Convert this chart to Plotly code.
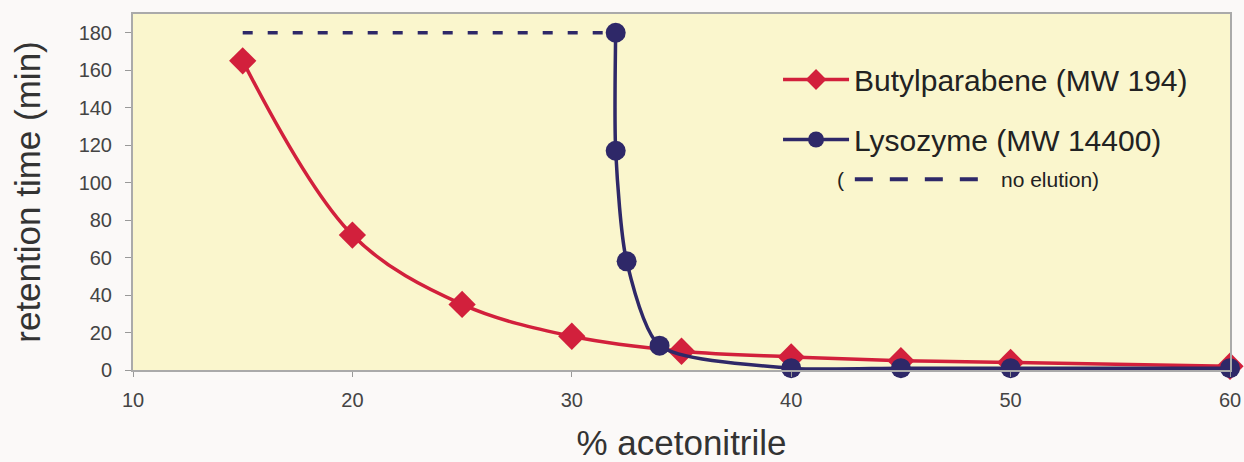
import plotly.graph_objects as go

# Data
acn_butyl = [15, 20, 25, 30, 35, 40, 45, 50, 60]
rt_butyl = [165, 72, 35, 18, 10, 7, 5, 4, 2]

acn_lyso = [32, 32, 32.5, 34, 40, 45, 50, 60]
rt_lyso = [180, 117, 58, 13, 1, 1, 1, 1]

acn_noelu = [15, 32]
rt_noelu = [180, 180]

x_ticks = [10, 20, 30, 40, 50, 60]
y_ticks = [0, 20, 40, 60, 80, 100, 120, 140, 160, 180]

RED = "#d2203c"
NAVY = "#2e2868"
FONT = "Liberation Sans, Arial, Helvetica, sans-serif"

fig = go.Figure()

fig.add_trace(go.Scatter(
    x=acn_noelu, y=rt_noelu, mode="lines",
    line=dict(color=NAVY, width=3.5, dash="10px,15px"),
    showlegend=False, cliponaxis=False, hoverinfo="skip",
))
fig.add_trace(go.Scatter(
    x=acn_butyl, y=rt_butyl, mode="lines+markers",
    name="Butylparabene (MW 194)", legendgroup="a",
    line=dict(color=RED, width=3.5, shape="spline", smoothing=1),
    marker=dict(symbol="diamond", size=21, color=RED),
    cliponaxis=False,
))
fig.add_trace(go.Scatter(
    x=acn_lyso, y=rt_lyso, mode="lines+markers",
    name="Lysozyme (MW 14400)", legendgroup="b",
    line=dict(color=NAVY, width=3.5, shape="spline", smoothing=0.7),
    marker=dict(symbol="circle", size=20, color=NAVY),
    cliponaxis=False,
))

fig.update_layout(
    width=1244, height=462,
    margin=dict(l=133, r=14, t=14, b=92, autoexpand=False),
    paper_bgcolor="#fbf9f8",
    plot_bgcolor="#faf6cd",
    font=dict(family=FONT, color="#333333"),
    legend=dict(
        x=0.588, y=0.889, xanchor="left", yanchor="top",
        bgcolor="rgba(0,0,0,0)", font=dict(size=30, color="#222222"),
        tracegroupgap=18, itemwidth=66,
    ),
    xaxis=dict(
        range=[10, 60], tickvals=x_ticks, ticks="outside", ticklen=5,
        tickcolor="#999999", tickfont=dict(size=20, color="#444444"),
        ticklabelstandoff=6, automargin=False,
        showgrid=False, zeroline=False, showline=True, linecolor="#aaaaaa",
        linewidth=2, mirror=True,
        title=dict(text="% acetonitrile", font=dict(size=35, color="#333333"), standoff=26),
    ),
    yaxis=dict(
        range=[0, 190], tickvals=y_ticks, ticks="outside", ticklen=6,
        tickcolor="#999999", tickfont=dict(size=20, color="#444444"),
        ticklabelstandoff=9, automargin=False,
        showgrid=False, zeroline=False, showline=True, linecolor="#aaaaaa",
        linewidth=2, mirror=True,
        title=dict(text="retention time (min)", font=dict(size=35, color="#333333"), standoff=27),
    ),
    showlegend=True,
)

# legend note for dashed line
fig.add_annotation(xref="paper", yref="paper", x=0.640, y=0.536, text="(",
                   showarrow=False, font=dict(size=21, color="#222222"), xanchor="left")
fig.add_shape(type="line", xref="paper", yref="paper", x0=0.658, x1=0.771, y0=0.536, y1=0.536,
              line=dict(color=NAVY, width=4, dash="18px,17px"))
fig.add_annotation(xref="paper", yref="paper", x=0.789, y=0.536, text="no elution)",
                   showarrow=False, font=dict(size=21, color="#222222"), xanchor="left")

fig.write_html("out.html", config={"displayModeBar": False},
               post_script="document.body.style.margin='0';")
